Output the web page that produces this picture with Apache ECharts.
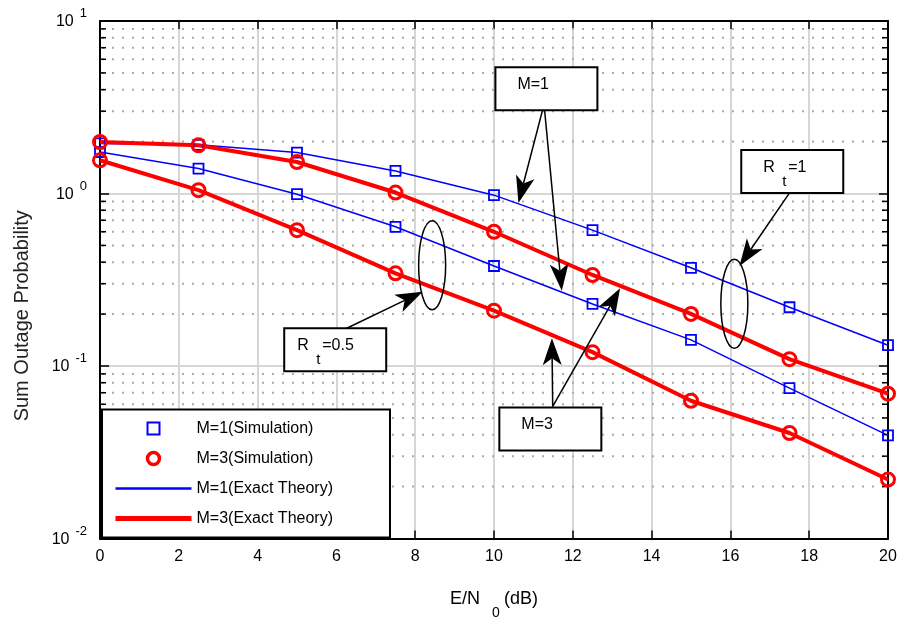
<!DOCTYPE html>
<html><head><meta charset="utf-8">
<script src="https://cdn.jsdelivr.net/npm/echarts@6/dist/echarts.min.js"></script>
<style>html,body{margin:0;padding:0;background:#fff}#c{width:917px;height:626px}</style>
</head><body><div id="c"></div>
<script>
// ---- data ----
const snr = [0, 2.5, 5, 7.5, 10, 12.5, 15, 17.5, 20];
const m1Rt1  = [1.95, 1.915, 1.726, 1.351, 0.978, 0.613, 0.371, 0.219, 0.132];
const m1Rt05 = [1.74, 1.395, 0.991, 0.641, 0.380, 0.229, 0.1417, 0.0745, 0.0396];
const m3Rt1  = [1.988, 1.903, 1.523, 1.013, 0.600, 0.337, 0.2004, 0.1096, 0.0691];
const m3Rt05 = [1.558, 1.045, 0.613, 0.3446, 0.2094, 0.1203, 0.0629, 0.0409, 0.02197];
const yDecades = [0.01, 0.1, 1];
const minorFactors = [2, 3, 4, 5, 6, 7, 8, 9];
const legendNames = ['M=1(Simulation)', 'M=3(Simulation)', 'M=1(Exact Theory)', 'M=3(Exact Theory)'];

// annotations (anchored in data coordinates)
const annBoxes = [
  {label: 'M=1', at: [11.33, 4.05]},
  {label: 'R', sub: 't', rest: '=1', at: [17.57, 1.34], off: 22},
  {label: 'R', sub: 't', rest: '=0.5', at: [5.97, 0.1241], off: 13},
  {label: 'M=3', at: [11.43, 0.0432]}
];
const annArrows = [
  [[11.27, 3.285], [10.62, 0.882]],
  [[11.27, 3.285], [11.72, 0.2733]],
  [[17.50, 1.008], [16.23, 0.380]],
  [[6.21, 0.1634], [8.19, 0.2697]],
  [[11.49, 0.0583], [11.47, 0.145]],
  [[11.49, 0.0583], [13.20, 0.2822]]
];
const annEllipses = [[16.10, 0.2296], [8.43, 0.3834]];

const FONT = 'Liberation Sans, Arial, sans-serif';
const BLUE = '#0000ff', RED = '#ff0000';

const minorVals = [];
yDecades.forEach(d => minorFactors.forEach(f => minorVals.push([0, +(d * f).toPrecision(3)])));

const pairs = arr => snr.map((x, i) => [x, arr[i]]);

function theory(arr, color, w) {
  return {name: color === BLUE ? legendNames[2] : legendNames[3], type: 'line', data: pairs(arr),
    symbol: 'none', lineStyle: {color: color, width: w}, itemStyle: {color: color}, z: 3, silent: true};
}
function sim(arr, isBlue) {
  return {name: isBlue ? legendNames[0] : legendNames[1], type: 'line', data: pairs(arr),
    symbol: isBlue ? 'rect' : 'circle', symbolSize: isBlue ? 10 : 13, showAllSymbol: true,
    lineStyle: {width: 0, opacity: 0},
    itemStyle: {color: 'rgba(255,255,255,0)', borderColor: isBlue ? BLUE : RED, borderWidth: isBlue ? 1.8 : 3},
    z: isBlue ? 4 : 5, silent: true};
}

const chart = echarts.init(document.getElementById('c'));
const option = {
  animation: false,
  backgroundColor: '#fff',
  grid: {left: 100, right: 29, top: 21, bottom: 87.5, containLabel: false},
  xAxis: [{
    type: 'value', min: 0, max: 20, interval: 2, position: 'bottom',
    axisLine: {onZero: false, lineStyle: {color: '#000', width: 2}},
    axisTick: {inside: true, length: 8, lineStyle: {color: '#000', width: 1.5}},
    axisLabel: {color: '#000', fontSize: 16, fontFamily: FONT, margin: 10},
    splitLine: {show: true, lineStyle: {color: '#d6d6d6', width: 2}},
    name: '{a|E/N}{s|0}{a|(dB)}', nameLocation: 'middle', nameGap: 52,
    nameTextStyle: {rich: {
      a: {fontSize: 18, fontFamily: FONT, color: '#000', padding: [0, 0, 12, 0], verticalAlign: 'top'},
      s: {fontSize: 14, fontFamily: FONT, color: '#000', padding: [0, 4, 0, 12], verticalAlign: 'bottom'}
    }}
  }, {
    type: 'value', min: 0, max: 20, interval: 2, position: 'top',
    axisLine: {onZero: false, lineStyle: {color: '#000', width: 2}},
    axisTick: {inside: true, length: 8, lineStyle: {color: '#000', width: 1.5}},
    axisLabel: {show: false}, splitLine: {show: false}
  }],
  yAxis: [{
    type: 'log', logBase: 10, min: 0.01, max: 10, position: 'left',
    axisLine: {onZero: false, lineStyle: {color: '#000', width: 2}},
    axisTick: {inside: true, length: 9, lineStyle: {color: '#000', width: 1.5}},
    axisLabel: {
      margin: 13, padding: [0, 0, 5, 0],
      formatter: v => '{b|10}{e|' + Math.round(Math.log10(v)) + '}',
      rich: {
        b: {fontSize: 16, fontFamily: FONT, color: '#000', padding: [7, 0, 0, 0], verticalAlign: 'bottom'},
        e: {fontSize: 13, fontFamily: FONT, color: '#000', padding: [0, 0, 0, 6], verticalAlign: 'top'}
      }
    },
    splitLine: {show: true, lineStyle: {color: '#d6d6d6', width: 2}},
    name: 'Sum Outage Probability', nameLocation: 'middle', nameGap: 68,
    nameTextStyle: {fontSize: 20, fontFamily: FONT, color: '#222', padding: [0, 72, 0, 0]}
  }, {
    type: 'log', logBase: 10, min: 0.01, max: 10, position: 'right',
    axisLine: {onZero: false, lineStyle: {color: '#000', width: 2}},
    axisTick: {inside: true, length: 9, lineStyle: {color: '#000', width: 1.5}},
    axisLabel: {show: false}, splitLine: {show: false}
  }],
  legend: {
    orient: 'vertical', left: 102, top: 409.5,
    padding: [9, 57, 9, 11], itemWidth: 76, itemHeight: 15, itemGap: 10,
    backgroundColor: '#fff', borderColor: '#000', borderWidth: 2, borderRadius: 0,
    selectedMode: false,
    textStyle: {fontSize: 16, fontFamily: FONT, color: '#000', lineHeight: 20},
    data: [
      {name: legendNames[0], itemStyle: {borderWidth: 2}},
      {name: legendNames[1], itemStyle: {borderWidth: 3.5}},
      {name: legendNames[2], lineStyle: {width: 2.5}, itemStyle: {opacity: 0}},
      {name: legendNames[3], lineStyle: {width: 5}, itemStyle: {opacity: 0}}
    ]
  },
  series: [
    {type: 'custom', coordinateSystem: 'cartesian2d', xAxisIndex: 0, yAxisIndex: 0, data: minorVals, z: 1, silent: true,
      clip: false,
      renderItem: (params, api) => {
        const cs = params.coordSys;
        const y = api.coord([0, api.value(1)])[1];
        return {type: 'group', children: [
          {type: 'line', shape: {x1: cs.x + 2, y1: y, x2: cs.x + cs.width, y2: y}, style: {stroke: '#aaaaaa', lineWidth: 2, lineDash: [2, 8]}},
          {type: 'line', shape: {x1: cs.x, y1: y, x2: cs.x + 6, y2: y}, style: {stroke: '#000', lineWidth: 1.5}},
          {type: 'line', shape: {x1: cs.x + cs.width - 6, y1: y, x2: cs.x + cs.width, y2: y}, style: {stroke: '#000', lineWidth: 1.5}}
        ]};
      }
    },
    theory(m1Rt1, BLUE, 1.5), theory(m1Rt05, BLUE, 1.5),
    theory(m3Rt1, RED, 4), theory(m3Rt05, RED, 4),
    sim(m1Rt1, true), sim(m1Rt05, true),
    sim(m3Rt1, false), sim(m3Rt05, false)
  ]
};
chart.setOption(option);

// ---- annotations ----
function px(p) { return chart.convertToPixel({gridIndex: 0}, p); }
const gfx = [];
const ZA = 20;
const txt = (s, x, y, size) => ({type: 'text', x: x, y: y, z: ZA + 2, silent: true,
  style: {text: s, font: size + 'px ' + FONT, fill: '#000', align: 'left', verticalAlign: 'middle'}});
annEllipses.forEach(c => {
  const p = px(c);
  gfx.push({type: 'ellipse', shape: {cx: p[0], cy: p[1], rx: 13.5, ry: 44.5}, style: {fill: 'none', stroke: '#000', lineWidth: 1.5}, z: ZA, silent: true});
});
annArrows.forEach(a => {
  const s = px(a[0]), t = px(a[1]);
  const dx = t[0] - s[0], dy = t[1] - s[1], len = Math.hypot(dx, dy);
  const ux = dx / len, uy = dy / len, nx = -uy, ny = ux;
  const L = 27, W = 9.5, N = 20;
  const bx = t[0] - ux * L, by = t[1] - uy * L;
  const mx = t[0] - ux * N, my = t[1] - uy * N;
  gfx.push({type: 'line', shape: {x1: s[0], y1: s[1], x2: mx, y2: my}, style: {stroke: '#000', lineWidth: 1.5}, z: ZA, silent: true});
  gfx.push({type: 'polygon', shape: {points: [[t[0], t[1]], [bx + nx * W, by + ny * W], [mx, my], [bx - nx * W, by - ny * W]]},
    style: {fill: '#000', stroke: 'none'}, z: ZA, silent: true});
});
annBoxes.forEach(b => {
  const p = px(b.at);
  const w = 102, h = 43;
  const x0 = p[0] - w / 2, y0 = p[1] - h / 2;
  gfx.push({type: 'rect', shape: {x: x0, y: y0, width: w, height: h}, style: {fill: '#fff', stroke: '#000', lineWidth: 2}, z: ZA + 1, silent: true});
  if (!b.sub) {
    gfx.push(txt(b.label, x0 + 22, p[1] - 4, 16));
  } else {
    const xr = x0 + b.off;
    gfx.push(txt(b.label, xr, p[1] - 4, 16));
    gfx.push(txt(b.sub, xr + 19, p[1] + 10, 15));
    gfx.push(txt(b.rest, xr + 25, p[1] - 4, 16));
  }
});
chart.setOption({graphic: gfx});
</script>
</body></html>
